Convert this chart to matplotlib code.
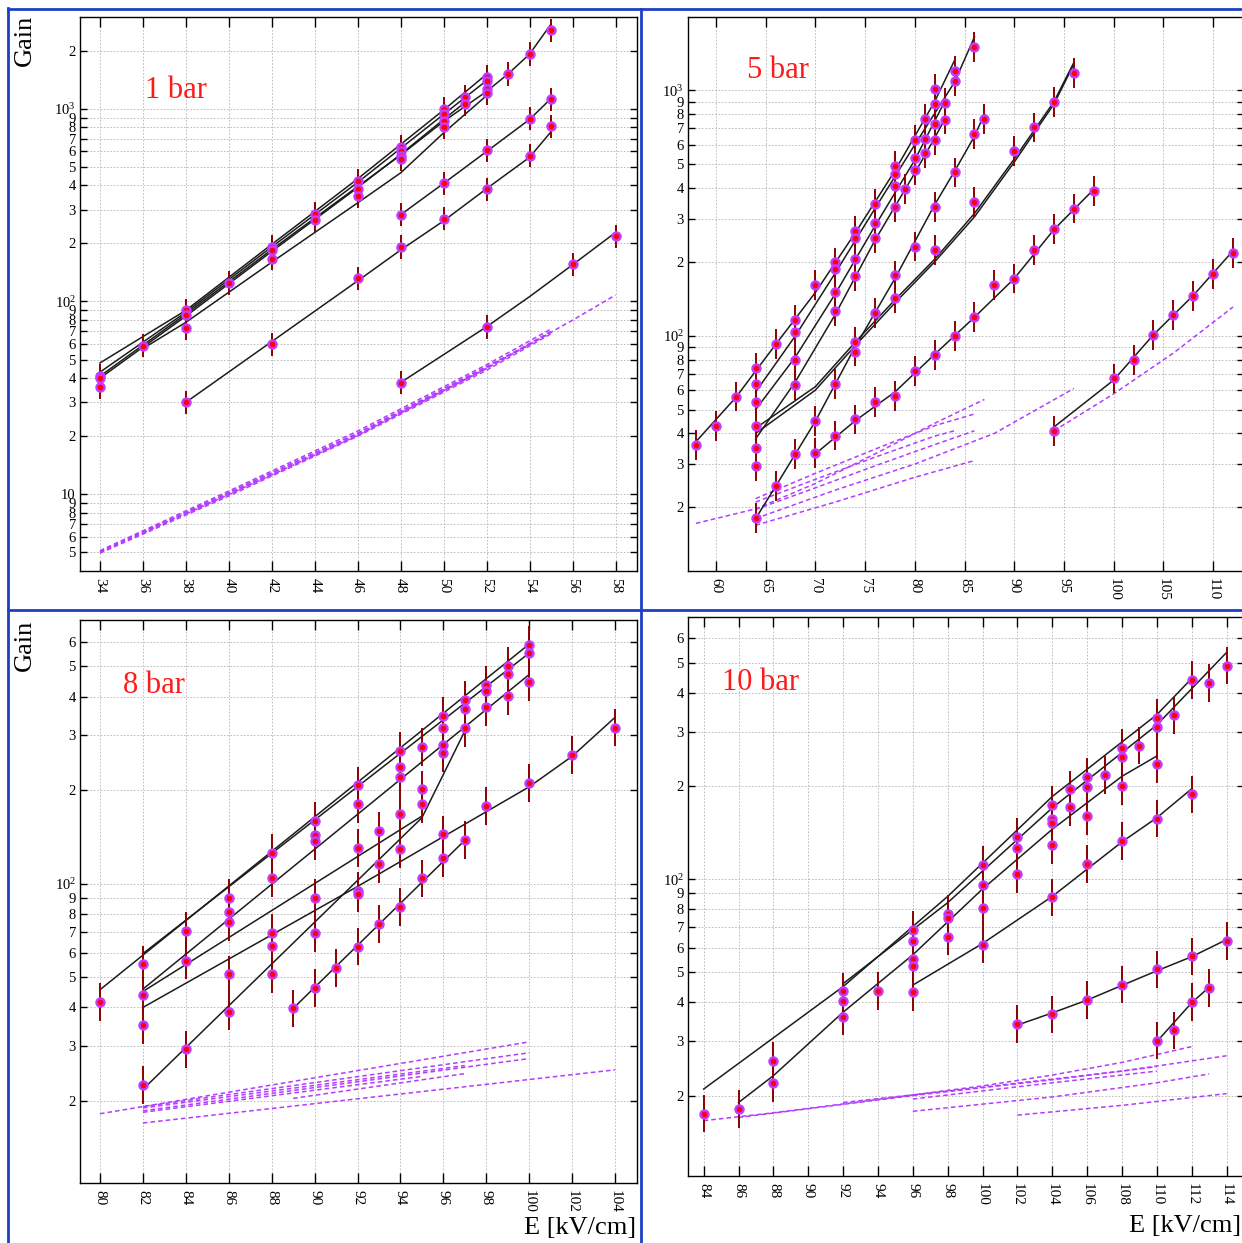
import matplotlib.pyplot as plt
from matplotlib.ticker import FixedLocator, FixedFormatter, NullLocator
from matplotlib.lines import Line2D

plt.rcParams['font.family'] = ['Liberation Serif', 'DejaVu Serif']

# ---- 1 bar ----
bar1_e = [34, 34, 34, 36, 38, 38, 38, 38, 40, 42, 42, 42, 42, 44, 44,
          46, 46, 46, 46, 48, 48, 48, 48, 48, 48, 48, 50, 50, 50, 50, 50, 50,
          51, 51, 52, 52, 52, 52, 52, 52, 52, 53, 54, 54, 54, 55, 55, 55, 56, 58]
bar1_gain = [41, 40, 36, 59, 90, 85, 73, 30, 125, 192, 185, 167, 60, 285, 264,
             422, 384, 351, 132, 634, 605, 568, 548, 282, 192, 38, 1000, 943, 860, 805, 410, 269,
             1149, 1052, 1468, 1384, 1268, 1204, 608, 381, 73.7, 1515, 1922, 887, 570, 2552, 1117, 811, 156, 218]
bar1_fit_e = [[34, 38, 42, 46, 50, 52],
              [34, 38, 42, 46, 50, 52],
              [34, 38, 42, 46, 48, 50, 52, 53, 54, 55],
              [34, 38, 42, 46, 48, 50, 51],
              [36, 38, 42, 46, 48, 50, 52],
              [48, 50, 52, 54, 55],
              [38, 42, 46, 48, 50, 52, 54, 55],
              [48, 52, 54, 56, 58]]
bar1_fit_gain = [[48, 90, 198, 433, 985, 1510],
                 [43, 88, 192, 415, 935, 1400],
                 [41, 86, 186, 395, 575, 860, 1230, 1515, 1920, 2750],
                 [40, 84, 182, 390, 580, 880, 1080],
                 [57, 78, 160, 325, 465, 750, 1170],
                 [282, 410, 600, 880, 1130],
                 [30, 62, 128, 185, 262, 385, 560, 760],
                 [38, 74, 106, 155, 228]]
bar1_ref_e = [[34, 40, 46, 52], [34, 40, 46, 52, 55], [34, 40, 46, 52, 55],
              [34, 40, 46, 52, 54], [36, 42, 46, 52, 55], [38, 42, 46, 52, 55],
              [48, 52, 56, 58]]
bar1_ref_gain = [[5.0, 10.0, 20.3, 45], [5.1, 10.4, 21.3, 47, 72], [4.95, 9.8, 20.0, 44, 68],
                 [5.05, 10.2, 20.8, 46, 60], [6.3, 12.9, 20.6, 45.5, 70], [7.9, 12.6, 20.2, 45, 69],
                 [26.5, 45, 80, 108]]

# ---- 5 bar ----
bar5_e = [58, 60, 62, 64, 64, 64, 64, 64, 64, 64, 66, 66, 68, 68, 68, 68, 68,
          70, 70, 70, 72, 72, 72, 72, 72, 72, 74, 74, 74, 74, 74, 74, 74,
          76, 76, 76, 76, 76, 78, 78, 78, 78, 78, 78, 78, 79, 80, 80, 80, 80, 80,
          81, 81, 81, 82, 82, 82, 82, 82, 82, 82, 83, 83, 84, 84, 84, 84,
          86, 86, 86, 86, 87, 88, 90, 90, 92, 92, 94, 94, 94, 96, 96, 98,
          100, 102, 104, 106, 108, 110, 112]
bar5_gain = [36, 43, 56.5, 74, 63.4, 53.7, 42.7, 34.8, 29.4, 18.1, 92.7, 24.5, 115.6, 104, 79.4, 63, 33,
             161, 45, 33.3, 199, 187, 151, 126, 63.4, 39.2, 268, 251, 206, 175, 94.3, 86.2, 45.6,
             345, 288, 251, 123.5, 53.7, 494, 457, 406, 334, 176, 142, 56.9, 395, 630, 532, 472, 231, 72,
             762, 636, 555, 1016, 877, 728, 627, 335, 224, 83.7, 885, 760, 1199, 1092, 463, 100,
             1500, 662, 351, 119, 767, 161, 566, 171, 706, 223, 899, 272, 40.8, 1175, 330, 389,
             67, 79.8, 101, 121.5, 145, 178, 217]
bar5_fit_e = [[58, 62, 66, 70, 74, 78, 82, 84],
              [64, 68, 72, 76, 80, 84, 86],
              [64, 68, 72, 76, 80, 83],
              [64, 68, 72, 76, 80, 82, 83],
              [64, 70, 74, 78, 82, 86, 90, 94, 96],
              [64, 70, 74, 78, 82, 86, 90, 94, 96],
              [64, 66, 70, 74, 78, 82, 84, 86, 87],
              [70, 74, 78, 82, 86, 90, 94, 98],
              [94, 100, 104, 108, 112]]
bar5_fit_gain = [[37, 56, 92, 150, 262, 470, 900, 1325],
                 [59, 100, 180, 330, 600, 1080, 1650],
                 [50, 82, 148, 280, 520, 900],
                 [38, 65, 122, 245, 460, 640, 760],
                 [42, 62, 94, 140, 205, 315, 525, 900, 1300],
                 [40, 60, 91, 136, 200, 305, 510, 880, 1280],
                 [18, 24.3, 44.8, 90, 171, 342, 468, 650, 800],
                 [33, 45, 59, 84, 119, 171, 271, 395],
                 [42.5, 66, 101, 146, 222]]
bar5_ref_e = [[58, 64, 70, 76, 82, 87], [64, 70, 76, 82, 86], [64, 70, 76, 82, 84],
              [64, 70, 76, 82, 86], [64, 72, 80, 88, 96], [64, 72, 80, 86],
              [94, 100, 106, 112]]
bar5_ref_gain = [[17.2, 19.7, 25, 33, 44, 55], [21.7, 27.5, 34.5, 43, 48], [21, 26, 32, 39, 41],
                 [19.6, 24, 29.5, 36, 41], [18, 23.5, 30, 40, 61], [16.9, 21, 26.5, 31],
                 [41, 58, 85, 131]]

# ---- 8 bar ----
bar8_e = [80, 82, 82, 82, 82, 84, 84, 84, 86, 86, 86, 86, 86,
          88, 88, 88, 88, 88, 89, 90, 90, 90, 90, 90, 90, 91,
          92, 92, 92, 92, 92, 92, 93, 93, 93, 94, 94, 94, 94, 94, 94,
          95, 95, 95, 95, 96, 96, 96, 96, 96, 96, 97, 97, 97, 97,
          98, 98, 98, 98, 99, 99, 99, 100, 100, 100, 100, 102, 104]
bar8_gain = [41.6, 55, 44, 35.2, 22.5, 70.5, 56.6, 29.3, 90.2, 81.2, 75.2, 51.1, 38.8,
             126, 104.3, 69.3, 63.1, 51.1, 39.7, 159, 143, 137, 90.2, 69.3, 46.2, 53.5,
             207, 180, 130, 95, 93, 62.8, 148, 116, 74.1, 267, 238, 221, 168, 129, 84.2,
             275, 201, 180, 104, 346, 316, 279, 264, 144, 121, 389, 366, 316, 138,
             437, 416, 370, 178, 503, 471, 402, 587, 551, 446, 211, 259, 318]
bar8_fit_e = [[80, 100], [82, 100], [82, 100], [82, 95],
              [82, 92, 100, 102, 104], [82, 95, 97], [89, 97]]
bar8_fit_gain = [[45.6, 590], [59.6, 552], [45.8, 471], [45, 165],
                 [40, 98, 205, 257, 343], [21.8, 163, 310], [39.7, 138]]
bar8_ref_e = [[80, 100], [82, 100], [82, 100], [82, 104], [82, 97], [82, 95], [89, 97]]
bar8_ref_gain = [[18.2, 31.0], [19.2, 28.6], [18.6, 27.4], [17.0, 25.2],
                 [19.0, 26.0], [18.4, 24.0], [20.4, 24.5]]

# ---- 10 bar ----
bar10_e = [84, 86, 88, 88, 92, 92, 92, 94, 96, 96, 96, 96, 96, 98, 98, 98,
           100, 100, 100, 100, 102, 102, 102, 102, 104, 104, 104, 104, 104, 104,
           105, 105, 106, 106, 106, 106, 106, 107, 108, 108, 108, 108, 108, 109,
           110, 110, 110, 110, 110, 110, 111, 111, 112, 112, 112, 112, 113, 113, 114, 114]
bar10_gain = [17.5, 18.1, 25.9, 22.0, 43.4, 40.3, 36.0, 43.6, 68.6, 63.1, 55.3, 52.6, 43.3, 77.4, 75.2, 65.3,
              111, 95.6, 80.5, 61.5, 137, 126, 104, 34.1, 174, 156, 152, 129, 87.3, 36.6,
              195, 171, 214, 198, 160, 112, 40.7, 217, 265, 249, 200, 133, 45.7, 270,
              331, 310, 236, 157, 51.1, 30.1, 338, 32.5, 440, 188, 56.3, 40.1, 430, 44.6, 490, 63.1]
bar10_fit_e = [[84, 92, 98, 104, 110, 112],
               [92, 98, 104, 110, 114],
               [86, 88, 92, 96, 100, 104, 108, 110],
               [96, 100, 104, 108, 110, 112],
               [102, 104, 106, 108, 110, 112, 114],
               [110, 112, 113]]
bar10_fit_gain = [[21, 45, 88, 185, 340, 445],
                  [46, 84, 170, 315, 540],
                  [19, 23.2, 37.2, 57, 93, 145, 215, 250],
                  [45.5, 62, 88, 132, 158, 196],
                  [33.8, 37, 40.7, 45.4, 50.6, 56.2, 63.8],
                  [29.9, 39.9, 44.8]]
bar10_ref_e = [[84, 88, 92, 96, 100, 104, 108, 112], [86, 96, 104, 110], [92, 100, 108, 114],
               [96, 104, 110, 113], [102, 108, 114], [96, 104, 110]]
bar10_ref_gain = [[16.6, 17.6, 18.8, 20.1, 21.5, 23.3, 25.6, 28.8], [17.0, 20.0, 22.5, 24.8],
                  [19.0, 21.3, 24.0, 26.9], [17.8, 19.8, 22.0, 23.5], [17.3, 18.6, 20.3],
                  [19.5, 22.0, 24.0]]

gain_err = 0.15  # relative error on each gain point

W, H = 1242, 1243
fig = plt.figure(figsize=(W / 100, H / 100), dpi=100)


def rect(l, t, r, b):
    return [l / W, 1 - b / H, (r - l) / W, (b - t) / H]


def log_ticks(lo, hi):
    vals, labs = [], []
    for k in range(0, 4):
        for m in range(1, 10):
            v = m * 10 ** k
            if lo * 1.02 <= v <= hi * 0.98:
                vals.append(v)
                if m == 1:
                    labs.append('10' if k == 1 else r'$\mathregular{10^{%d}}$' % k)
                else:
                    labs.append(str(m))
    return vals, labs


def panel(pos, xlim, ylim, xticks, e, g, fit_e, fit_g, ref_e, ref_g, title, tpos):
    ax = fig.add_axes(rect(*pos))
    ax.set_yscale('log')
    ax.set_xlim(*xlim)
    ax.set_ylim(*ylim)

    for xs, ys in zip(ref_e, ref_g):
        ax.plot(xs, ys, color='#b33cff', lw=1.1, ls=(0, (3, 2)), zorder=2)
    for xs, ys in zip(fit_e, fit_g):
        ax.plot(xs, ys, color='#1c1c1c', lw=1.1, zorder=3)

    lo = [v - v / (1 + gain_err) for v in g]
    hi = [v * gain_err for v in g]
    ax.errorbar(e, g, yerr=[lo, hi], fmt='none', ecolor='#8b0000', elinewidth=1.4,
                capsize=0, zorder=4)
    ax.plot(e, g, 'o', ms=5.8, mfc='#ff0010', mec='#c23cff', mew=1.7, ls='none', zorder=5)

    ax.xaxis.set_major_locator(FixedLocator(xticks))
    ax.xaxis.set_major_formatter(FixedFormatter([str(t) for t in xticks]))
    ax.xaxis.set_minor_locator(NullLocator())
    yv, yl = log_ticks(*ylim)
    ax.yaxis.set_major_locator(FixedLocator(yv))
    ax.yaxis.set_major_formatter(FixedFormatter(yl))
    ax.yaxis.set_minor_locator(NullLocator())

    ax.tick_params(axis='x', direction='in', length=7, width=1, top=True,
                   labelrotation=-90, labelsize=11, pad=5)
    ax.tick_params(axis='y', direction='in', length=5, width=1, right=True,
                   labelsize=10.5, pad=3)
    ax.grid(True, color='#b4b4b4', lw=0.6, ls=(0, (2, 2)))
    for sp in ax.spines.values():
        sp.set_linewidth(1.0)
    ax.text(tpos[0], tpos[1], title, transform=ax.transAxes, color='#ff1a1a',
            fontsize=22, ha='left', va='center')
    return ax


panel((80, 17, 637, 571), (33.07, 59.0), (4.0, 2990), list(range(34, 59, 2)),
      bar1_e, bar1_gain, bar1_fit_e, bar1_fit_gain, bar1_ref_e, bar1_ref_gain,
      '1 bar', (0.117, 0.868))
panel((688, 17, 1244, 571), (57.2, 113.1), (11.0, 1990), list(range(60, 111, 5)),
      bar5_e, bar5_gain, bar5_fit_e, bar5_fit_gain, bar5_ref_e, bar5_ref_gain,
      '5 bar', (0.106, 0.904))
panel((80, 620, 637, 1183), (79.07, 105.02), (10.9, 705), list(range(80, 105, 2)),
      bar8_e, bar8_gain, bar8_fit_e, bar8_fit_gain, bar8_ref_e, bar8_ref_gain,
      '8 bar', (0.077, 0.883))
panel((688, 617, 1244, 1176), (83.1, 115.0), (11.0, 703), list(range(84, 115, 2)),
      bar10_e, bar10_gain, bar10_fit_e, bar10_fit_gain, bar10_ref_e, bar10_ref_gain,
      '10 bar', (0.061, 0.882))

# axis titles
fig.text(25 / W, 1 - 40 / H, 'Gain', rotation=90, fontsize=19, ha='center', va='center')
fig.text(25 / W, 1 - 645 / H, 'Gain', rotation=90, fontsize=19, ha='center', va='center')
fig.text(636 / W, 1 - 1228 / H, 'E [kV/cm]', fontsize=19, ha='right', va='center')
fig.text(1241 / W, 1 - 1226 / H, 'E [kV/cm]', fontsize=19, ha='right', va='center')

# blue frame between the four panels
blue = '#1f3fc4'
for (x0, y0, x1, y1) in [(8, 8, 8, 1243), (8, 9, 1242, 9), (641, 9, 641, 1243), (8, 610, 1242, 610)]:
    fig.add_artist(Line2D([x0 / W, x1 / W], [1 - y0 / H, 1 - y1 / H], color=blue, lw=2))

fig.savefig('out.png', dpi=100)
plt.close(fig)
